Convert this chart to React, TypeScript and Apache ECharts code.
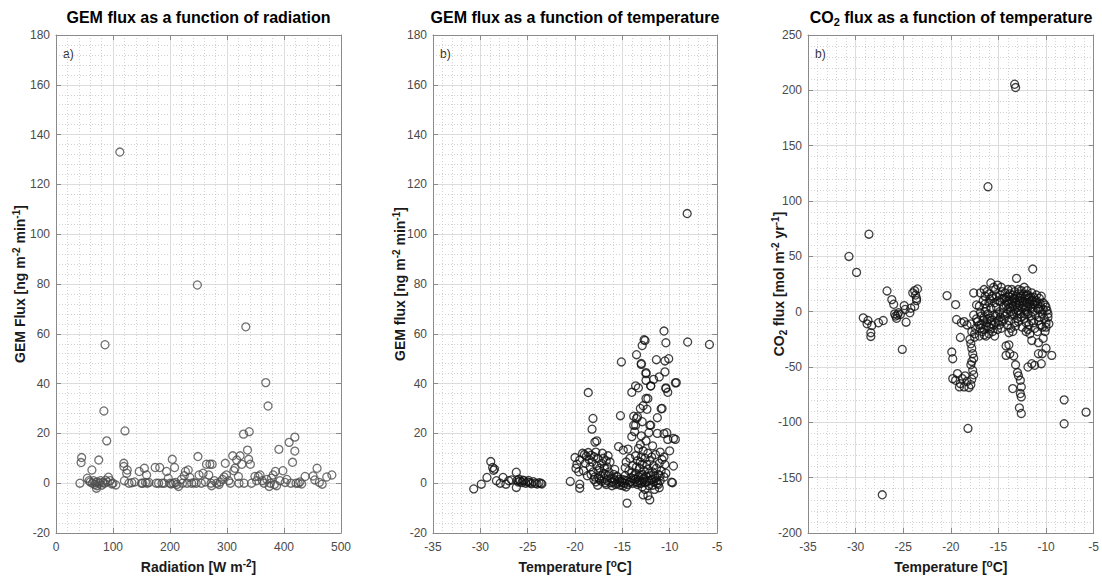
import React, { useEffect, useRef } from "react";
import * as echarts from "echarts";

// ---------------- DATA ----------------
// Panel a: radiation [W m-2] vs GEM flux
const radiationGem: [number, number][] = [
  [42, 0], [45, 10.3], [44, 8.3], [55, 2], [58, 1], [60, 0.5], [63, 5.3], [64, 0], [66, 1], [68, -0.5],
  [70, 0.3], [71, -2], [72, -1], [73, 0.5], [75, 9.3], [76, 0], [78, 1], [80, -0.8], [82, 0.3], [84, 29],
  [85, 0], [86, 55.6], [87, 1.2], [89, 17], [90, 0.5], [92, 2.4], [95, 1], [98, -0.3], [100, 0], [105, -0.7],
  [112, 133], [119, 8], [119, 6.7], [120, 1], [121, 21], [124, 4], [125, 5.3], [128, 0], [133, 0.2], [138, 0.5],
  [146, 4.7], [150, 0], [152, 0], [155, 6], [157, 0.3], [159, 3.3], [160, 0], [163, 0.3], [174, 6.3], [176, 0],
  [180, 0], [182, 6.3], [186, 0], [190, 0], [194, 4.7], [197, 2], [200, 0], [202, -0.3], [204, 9.6], [206, 0],
  [208, 6.3], [210, 0.3], [212, -0.5], [215, -1.3], [220, 1.5], [222, 0], [225, 3], [227, 4.7], [230, 0], [232, 5.3],
  [235, 2.3], [238, 0], [242, 0.2], [246, 0], [249, 10.7], [251, 3.3], [248, 79.6], [255, 0], [258, 4], [262, 0.5],
  [264, 7.6], [268, 3.3], [270, 7.6], [272, 0], [273, -1], [274, 7.6], [278, 1], [282, 0], [286, -0.5], [288, 0.5],
  [292, 1.5], [295, 2.5], [297, 8], [299, 3.3], [303, 1], [306, 0], [310, 11], [312, 5], [314, 6], [317, 9.3],
  [320, 2.7], [321, 0], [323, 11], [326, 7.6], [329, 19.7], [330, 0], [333, 62.8], [336, 13.3], [338, 9.6], [339, 20.7],
  [341, 7.6], [343, 0], [349, 2.7], [352, 1], [355, 2.7], [358, 3.3], [362, 1], [365, 0], [368, 40.4], [370, 1.5],
  [372, 31], [374, -1.3], [376, 0], [378, 2], [381, 3.3], [383, -0.5], [385, 4.7], [387, -1], [391, 13.6], [393, 1],
  [398, 5], [402, 0.3], [405, 1.5], [409, 16.4], [412, 0], [415, 8.4], [419, 18.5], [419, 12.9], [421, 0], [425, 0],
  [428, 0.5], [431, -0.3], [437, 2.7], [451, 2.9], [454, 1.3], [458, 6], [462, 0.3], [467, -0.4], [475, 2.5], [484, 3.3],
];

// Panel b: temperature [°C] vs GEM flux
const temperatureGem: [number, number][] = [
  [-30.7, -2.3], [-29.9, -0.4], [-29.3, 2.3], [-28.9, 8.7], [-28.7, 6.3], [-28.5, 5.7], [-28.6, 5.2], [-28.3, 1],
  [-27.9, 0], [-27.6, 2.3], [-27.3, -0.4], [-27, 1], [-26.7, 1.3], [-26.2, -1.7], [-26.2, 4.4], [-26, 0.5],
  [-25.8, 0.8], [-25.6, 0.3], [-25.4, 1], [-25.2, 0], [-25, 0.5], [-24.8, 0.2], [-24.6, -0.2], [-24.4, 0.6],
  [-24.2, 0], [-24, -0.3], [-23.8, 0.2], [-23.6, 0], [-23.5, -0.3], [-26.1, 1.2], [-25.9, 1.6], [-25.5, 1.2], [-24.9, 1.1],
  [-20.5, 0.7], [-20.0, 10.3], [-19.8, 7.6], [-19.5, 9.3], [-19.5, -0.4], [-19.5, -2], [-19.9, 6], [-19.6, 4.6],
  [-19.2, 12], [-19.0, 11.5], [-18.8, 10.8], [-18.6, 12.3], [-18.9, 8], [-19.1, 5], [-18.5, 9.5], [-18.3, 11.2],
  [-18.4, 6.5], [-18.7, 3], [-18.2, 8.5], [-18.0, 10.6], [-18.1, 4.5], [-17.9, 2.5], [-18.0, 1.5],
  [-17.8, 12.5], [-17.6, 10], [-17.7, 7], [-17.5, 5], [-17.3, 3], [-17.8, 0.5], [-17.6, -0.8], [-17.4, 1.5],
  [-17.2, 8], [-17.0, 10], [-16.9, 6], [-16.8, 3.5], [-16.6, 1], [-16.7, -0.5], [-16.5, 11], [-16.3, 8.5],
  [-16.4, 4.5], [-16.2, 2], [-16.0, 0.5], [-16.1, -1], [-17.1, 12], [-16.8, 0.2], [-17.9, 16.5], [-17.7, 17],
  [-17.0, 4], [-16.6, 6.5],
  [-15.8, 1.2], [-15.6, 0], [-15.4, 14.7], [-15.5, 2.5], [-15.3, 0.5], [-15.2, -0.8], [-15.0, 1.5], [-14.9, 13.3],
  [-14.8, 0], [-14.7, 3], [-14.6, -1.5], [-14.5, -8], [-14.4, 13.7], [-14.5, 1], [-14.3, 5], [-14.2, 0.3],
  [-14.1, 2.2], [-15.9, 3.5], [-15.7, -0.5], [-15.1, 0.8], [-14.9, -1], [-14.6, 8.5], [-14.0, 18.7], [-14.7, 6.2],
  [-13.9, 0], [-13.8, 1.8], [-13.7, 20.7], [-13.8, 23.3], [-13.4, 26.7], [-13.6, 4], [-13.5, 0.5], [-13.4, -0.5],
  [-13.3, 2.5], [-13.2, 6], [-13.1, 8.5], [-13.0, 10.5], [-13.2, 1], [-13.0, 0], [-12.9, 3.5], [-12.8, -4.7],
  [-12.8, 1.5], [-12.7, 5], [-12.6, 0.3], [-12.5, 2.8], [-12.4, 7.5], [-12.3, 12], [-12.2, 1], [-12.1, -6.7],
  [-12.3, -5], [-12.0, 3], [-12.1, 9], [-13.6, 11], [-13.3, 14], [-13.9, 7], [-12.9, -1.5], [-12.6, -2.5],
  [-12.2, -1], [-13.1, 15.5], [-12.5, 17], [-12.2, 20.3], [-12.6, 10], [-12.0, 23.3], [-13.0, 19], [-12.8, 13],
  [-11.9, 1.5], [-11.8, 4.5], [-11.7, 0.5], [-11.6, -2.5], [-11.5, 2], [-11.4, 6], [-11.3, 0], [-11.2, 3.5],
  [-11.1, 8], [-11.0, 1], [-11.1, -1.8], [-10.9, 5], [-10.8, 9.5], [-10.6, 10.5], [-10.5, 7.5], [-10.3, 20.3],
  [-10.2, 17.6], [-9.4, 17.6], [-10.0, 13], [-9.6, 6.9], [-9.8, 0.4], [-9.7, 0.2], [-10.6, 2.5], [-10.4, 4],
  [-11.5, 11.5], [-11.0, 12.5], [-11.8, 15], [-11.3, 20],
  [-17.5, 2.2], [-17.2, 0.8], [-16.9, 1.8], [-16.5, 3], [-16.2, 0.2], [-15.9, 1.8], [-15.6, 2.8], [-15.3, 1.5],
  [-15.0, 0.2], [-14.7, 1.2], [-14.4, -0.5], [-14.1, 0.8], [-13.8, 3], [-13.6, 1.5], [-13.3, 0.2], [-13.1, 3.2],
  [-12.9, 0.8], [-12.7, 2.2], [-12.4, 0.6], [-12.2, 4], [-12.0, 1.2], [-11.8, -0.8], [-11.6, 2.8], [-11.4, 1],
  [-11.2, -0.5], [-11.0, 3], [-13.5, 6.5], [-12.9, 7.5], [-12.3, 5.5], [-11.7, 7], [-14.0, 4.2], [-16.7, 9],
  [-18.3, 3.5], [-17.4, 6], [-15.8, 5.5], [-14.2, 10], [-13.4, 9], [-11.9, 10.5],
  [-18.6, 36.4], [-18.1, 26], [-18.2, 21.7], [-15.2, 27.1], [-15.1, 48.7], [-13.5, 51.6], [-13.0, 47.7],
  [-12.9, 55.3], [-12.6, 57.3], [-12.5, 44], [-12.0, 39], [-12.3, 34], [-10.8, 30], [-10.4, 38], [-9.3, 40.4],
  [-8.15, 108.3], [-10.6, 61.1], [-12.7, 57.6], [-10.4, 56.4], [-8.1, 56.7], [-5.8, 55.7], [-13.0, 48.1],
  [-11.4, 49.6], [-10.5, 49.1], [-10.1, 50], [-12.5, 44.4], [-10.5, 44.7], [-11.1, 42.7], [-11.7, 41.7],
  [-12.5, 41.3], [-9.4, 40.3], [-12, 39.1], [-13.6, 39.1], [-13.3, 38.3], [-10.4, 38.3], [-10.2, 36.5],
  [-14, 36.5], [-12.5, 34], [-12.8, 31.1], [-13.1, 30], [-12.4, 29.7], [-10.9, 29.9], [-11.3, 26.3],
  [-13.8, 26.9], [-13.5, 26], [-12.9, 24.7], [-12.1, 23.3], [-13.6, 23.3], [-10.6, 19.9], [-9.6, 18],
];

// Panel c: temperature [°C] vs CO2 flux
const temperatureCo2: [number, number][] = [
  [-30.7, 49.9], [-28.6, 70], [-29.9, 35.5], [-29.2, -5.6], [-28.7, -8], [-28.8, -11], [-28.3, -12.5], [-28.4, -19],
  [-28.4, -22.4], [-27.6, -10], [-27.1, -8], [-26.7, 18.7], [-26.2, 10.9], [-26.0, 6.7], [-25.9, -2], [-25.8, -4],
  [-25.6, -3], [-25.5, -1], [-25.7, -6], [-25.3, -2.5], [-24.9, 5.5], [-24.8, 2], [-24.7, -9.5], [-25.1, -34.1],
  [-24.2, 3.1], [-23.8, 4.9], [-24.0, 17], [-23.8, 19], [-23.5, 20.5], [-23.7, 15], [-23.6, 12], [-23.6, 10],
  [-24.3, -1], [-27.2, -165.5],
  [-20.4, 14.5], [-19.5, 6.4], [-19.4, -7.1], [-19.0, -23.3], [-19.9, -36.5], [-19.8, -42.5], [-19.8, -60.5],
  [-19.5, -62], [-19.3, -56], [-19.1, -68], [-19.0, -65], [-18.8, -60.5], [-18.6, -68], [-18.5, -58], [-18.3, -63],
  [-18.1, -68.5], [-17.9, -66], [-17.8, -61], [-18.2, -105.5], [-18.9, -10], [-18.6, -9], [-18.3, -12], [-17.9, -11],
  [-17.6, 16.9], [-17.3, 6.1], [-17.3, -6.5], [-18.0, -25], [-17.9, -29], [-17.8, -33], [-17.7, -38], [-17.6, -42],
  [-17.8, -45], [-17.9, -48], [-17.7, -53], [-17.6, -57], [-17.5, -20], [-17.4, -15], [-17.6, -3], [-17.2, -9],
  [-17.0, -12], [-17.0, -22], [-17.5, -23], [-17.8, -18],
  [-16.6, 10], [-16.4, 14], [-16.2, 18], [-15.8, 25.9], [-15.5, 22], [-15.3, 20], [-15.7, 14], [-16.0, 8],
  [-16.3, 3], [-16.5, -5], [-16.2, -10], [-16.0, -14], [-15.7, -8], [-15.5, -3], [-15.2, 4], [-15.0, 10],
  [-14.8, 15], [-14.6, 18], [-14.4, 12], [-14.2, 6], [-14.0, 2], [-14.3, -4], [-14.6, -9], [-14.9, -12],
  [-15.3, -10], [-15.8, -15], [-16.1, -2], [-16.6, -8], [-16.8, -12], [-15.9, -6], [-13.8, 16], [-13.6, 20],
  [-13.4, 12], [-13.2, 8], [-13.0, 4], [-12.8, 10], [-12.6, 14], [-12.4, 6], [-12.2, 2], [-12.0, 8],
  [-11.8, 12], [-11.6, 4], [-11.4, 0], [-11.2, 6], [-11.0, 10], [-10.8, 2], [-10.6, 7], [-10.4, -2],
  [-10.2, -6], [-10.0, -10], [-9.8, -5], [-9.9, 1], [-10.1, 6], [-13.1, 30.1], [-11.4, 38.5], [-12.3, 22],
  [-12.0, 14.5], [-12.7, -2], [-13.0, -6], [-13.3, -10], [-12.5, -14], [-12.1, -18], [-11.8, -12], [-11.5, -8],
  [-11.2, -15], [-10.9, -18], [-10.7, -5], [-13.7, 0], [-13.5, 5], [-14.1, 9], [-13.9, -8], [-12.9, 1],
  [-11.9, -2], [-11.7, -20], [-11.5, -26], [-10.8, -28], [-10.3, -24], [-10.1, -18], [-10.0, -14], [-9.7, -11],
  [-14.2, -31], [-13.9, -30], [-13.8, -38], [-13.4, -40], [-13.2, -48], [-13.0, -55], [-12.9, -58], [-12.7, -62],
  [-12.6, -68], [-12.7, -74], [-12.6, -77], [-12.8, -86.9], [-12.6, -92], [-13.5, -69.5], [-14.2, -39.5],
  [-11.2, -48.5], [-11.5, -47], [-11.9, -50], [-10.8, -38], [-10.5, -47], [-9.4, -39.5], [-10.4, -38], [-10.0, -33],
  [-8.1, -79.7], [-8.1, -101.3], [-5.8, -90.8], [-16.1, 112.9], [-13.3, 205.5], [-13.2, 202.5],
  [-16.9, -15], [-16.7, -18], [-16.5, -21], [-16.3, -22], [-16.0, -20], [-15.6, -18], [-15.4, -22], [-15.1, -16],
  [-14.8, -5], [-14.5, -1], [-14.1, -12], [-13.7, -15], [-13.5, -18], [-13.2, -13], [-12.9, -9], [-12.3, -6],
  [-12.1, -10], [-11.9, 4], [-11.7, 9], [-11.3, 13], [-11.1, -3], [-10.9, 3], [-10.6, -12], [-10.3, 8],
  [-10.0, 4], [-9.8, -2], [-13.6, 10], [-13.9, 14], [-14.3, 17], [-14.7, 22], [-15.1, 24], [-14.0, 20],
  [-13.3, 18], [-12.9, 16], [-12.6, 19], [-12.2, 11], [-13.1, 6], [-13.3, 2], [-13.6, -3], [-14.4, -7],
  [-15.0, -8], [-15.5, -12], [-16.3, -13], [-16.8, -4], [-16.4, 0], [-15.8, 3], [-15.4, 8], [-15.6, 12],
  [-16.0, 16], [-16.5, 20], [-16.9, 17], [-17.0, 5], [-16.9, -1], [-14.0, 7], [-13.8, 4], [-12.5, 3],
  [-12.2, -2], [-11.6, -4], [-11.4, 7], [-11.0, 15], [-10.7, 12], [-10.5, 14], [-11.5, 17], [-12.0, 19],
  [-12.8, 6], [-13.4, -2], [-14.9, 0], [-15.3, -4], [-16.2, -7],
  [-14.5, 4], [-14.2, 13], [-13.9, 10], [-13.6, 7], [-13.3, 12], [-13.0, 14], [-12.7, 12], [-12.4, 9],
  [-12.1, 5], [-11.8, 7], [-11.5, 10], [-11.2, 9], [-10.9, 7], [-10.6, 4], [-10.3, 2], [-12.9, 20],
  [-12.4, 16], [-11.9, 15], [-13.5, 15], [-14.8, 9], [-15.2, 14], [-15.9, 11], [-16.4, 7], [-12.0, 0],
  [-12.6, -5], [-13.1, -1], [-14.1, -2], [-15.1, -2], [-16.5, -16], [-15.8, -11], [-14.7, -15], [-13.9, -19],
  [-11.3, -10], [-10.8, -8], [-10.4, -14], [-11.9, -16], [-13.0, 10], [-12.2, 14], [-11.6, 13], [-14.6, 12],
];

const panelTitles = [
  "GEM flux as a function of radiation",
  "GEM flux as a function of temperature",
  "CO{sub|2} flux as a function of temperature",
];
const panelTags = ["a)", "b)", "b)"];
const xNames = ["Radiation [W m{sup|-2}]", "Temperature [{sup|o}C]", "Temperature [{sup|o}C]"];
const yNames = [
  "GEM Flux [ng m{sup|-2} min{sup|-1}]",
  "GEM flux [ng m{sup|-2} min{sup|-1}]",
  "CO{sub|2} flux [mol m{sup|-2} yr{sup|-1}]",
];
const xRanges = [
  { min: 0, max: 500, interval: 100 },
  { min: -35, max: -5, interval: 5 },
  { min: -35, max: -5, interval: 5 },
];
const yRanges = [
  { min: -20, max: 180, interval: 20 },
  { min: -20, max: 180, interval: 20 },
  { min: -200, max: 250, interval: 50 },
];

// ---------------- LAYOUT / STYLE ----------------
const FONT = "'Liberation Sans', Arial, Helvetica, sans-serif";
const AXIS_COLOR = "#8a8a8a";
const LABEL_COLOR = "#4a4a4a";
const TEXT_DARK = "#1a1a1a";
const grids = [
  { left: 56, top: 35, width: 285, height: 500 },
  { left: 433, top: 35, width: 284, height: 500 },
  { left: 808, top: 35, width: 286, height: 500 },
];
const yNameGaps = [27, 24, 20];
const markerColors = ["#4d4d4d", "#111111", "#111111"];

function richFor(size: number) {
  return {
    sup: { fontSize: Math.round(size * 0.68), fontWeight: "bold", fontFamily: FONT, color: TEXT_DARK, padding: [0, 0, Math.round(size * 0.55), 0] },
    sub: { fontSize: Math.round(size * 0.68), fontWeight: "bold", fontFamily: FONT, color: TEXT_DARK, padding: [Math.round(size * 0.55), 0, 0, 0] },
  };
}

function buildOption() {
  const xAxis: any[] = [];
  const yAxis: any[] = [];
  const series: any[] = [];
  const graphic: any[] = [];
  const datasets = [radiationGem, temperatureGem, temperatureCo2];

  grids.forEach((g, i) => {
    const common = {
      type: "value",
      gridIndex: i,
      axisLine: { show: true, onZero: false, lineStyle: { color: AXIS_COLOR, width: 1 } },
      axisTick: { show: true, inside: true, length: 5, lineStyle: { color: AXIS_COLOR } },
    };
    xAxis.push({
      ...common,
      ...xRanges[i],
      position: "bottom",
      name: xNames[i],
      nameLocation: "middle",
      nameGap: 25,
      nameMoveOverlap: false,
      nameTextStyle: { fontFamily: FONT, fontSize: 14, fontWeight: "bold", color: TEXT_DARK, rich: richFor(14) },
      axisLabel: { color: LABEL_COLOR, fontFamily: FONT, fontSize: 12, margin: 8 },
      splitLine: { show: true, lineStyle: { color: "#dcdcdc", width: 1 } },
      minorTick: { show: false, splitNumber: 5 },
      minorSplitLine: { show: true, lineStyle: { color: "#d2d2d2", width: 1, type: [1, 2] } },
    });
    xAxis.push({
      ...common,
      ...xRanges[i],
      position: "top",
      axisLabel: { show: false },
      splitLine: { show: false },
    });
    yAxis.push({
      ...common,
      ...yRanges[i],
      position: "left",
      name: yNames[i],
      nameLocation: "middle",
      nameGap: yNameGaps[i],
      nameMoveOverlap: false,
      nameTextStyle: { fontFamily: FONT, fontSize: 14, fontWeight: "bold", color: TEXT_DARK, rich: richFor(14) },
      axisLabel: { color: LABEL_COLOR, fontFamily: FONT, fontSize: 12, margin: 6 },
      splitLine: { show: true, lineStyle: { color: "#dcdcdc", width: 1 } },
      minorTick: { show: false, splitNumber: 5 },
      minorSplitLine: { show: true, lineStyle: { color: "#d2d2d2", width: 1, type: [1, 2] } },
    });
    yAxis.push({
      ...common,
      ...yRanges[i],
      position: "right",
      axisLabel: { show: false },
      splitLine: { show: false },
    });
    series.push({
      type: "scatter",
      xAxisIndex: i * 2,
      yAxisIndex: i * 2,
      data: datasets[i],
      symbol: "circle",
      symbolSize: 8,
      itemStyle: { color: "rgba(0,0,0,0)", borderColor: markerColors[i], borderWidth: 1.3 },
      emphasis: { disabled: true },
      silent: true,
    });
    graphic.push({
      type: "text",
      x: g.left + g.width / 2,
      y: 17,
      silent: true,
      style: {
        text: panelTitles[i],
        textAlign: "center",
        textVerticalAlign: "middle",
        fontFamily: FONT,
        fontSize: 16,
        fontWeight: "bold",
        fill: "#000",
        rich: {
          sub: { fontSize: 11, fontWeight: "bold", fontFamily: FONT, fill: "#000", padding: [9, 0, 0, 0] },
        },
      },
    });
    graphic.push({
      type: "text",
      x: g.left + 7,
      y: 54,
      silent: true,
      style: {
        text: panelTags[i],
        textAlign: "left",
        textVerticalAlign: "middle",
        fontFamily: FONT,
        fontSize: 12,
        fill: "#333",
      },
    });
  });

  return {
    animation: false,
    backgroundColor: "#ffffff",
    grid: grids.map((g) => ({ ...g, containLabel: false })),
    xAxis,
    yAxis,
    series,
    graphic,
  };
}

export default function App() {
  const ref = useRef<HTMLDivElement>(null);
  useEffect(() => {
    if (!ref.current) return;
    const chart = echarts.init(ref.current, undefined, { renderer: "svg" });
    chart.setOption(buildOption() as any);
    return () => chart.dispose();
  }, []);
  return (
    <div
      ref={ref}
      style={{ position: "fixed", left: 0, top: 0, width: 1102, height: 579, background: "#fff" }}
    />
  );
}
